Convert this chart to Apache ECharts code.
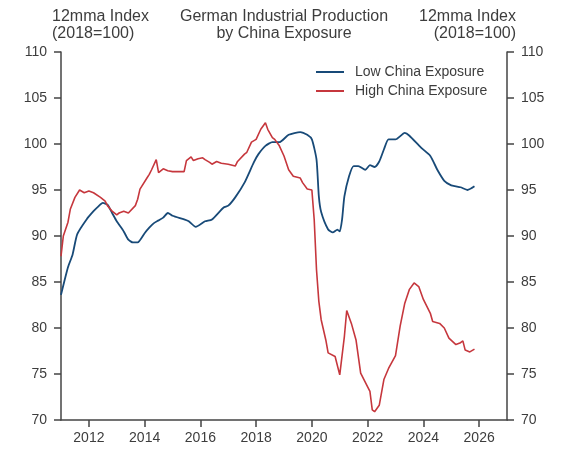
<!DOCTYPE html>
<html>
<head>
<meta charset="utf-8">
<script src="https://cdn.jsdelivr.net/npm/echarts@6/dist/echarts.min.js"></script>
<style>
  html, body { margin: 0; padding: 0; background: #fff; }
  #chart { width: 570px; height: 455px; }
</style>
</head>
<body>
<div id="chart"></div>
<script>
// Low China Exposure (12mma index, 2018=100)
const lowDates = ['2011-01','2011-04','2011-06','2011-08','2011-12','2012-03','2012-05','2012-07','2012-09','2012-11',
  '2013-01','2013-04','2013-06','2013-08','2013-10','2014-01','2014-03','2014-05','2014-07','2014-09','2014-11',
  '2015-01','2015-06','2015-08','2015-11','2016-03','2016-06','2016-11','2017-01','2017-04','2017-08','2017-12',
  '2018-02','2018-05','2018-08','2018-11','2019-03','2019-08','2019-11','2020-01','2020-03','2020-04','2020-05',
  '2020-08','2020-10','2020-12','2021-01','2021-02','2021-03','2021-05','2021-07','2021-09','2021-12','2022-02',
  '2022-04','2022-06','2022-08','2022-10','2023-01','2023-05','2023-07','2023-12','2024-04','2024-07','2024-10',
  '2025-01','2025-03','2025-05','2025-08','2025-11'];
const lowValues = [83.6, 86.6, 88.0, 90.2, 91.8, 92.7, 93.2, 93.6, 93.4, 92.5,
  91.6, 90.5, 89.6, 89.3, 89.3, 90.3, 90.9, 91.4, 91.7, 92.0, 92.5,
  92.2, 91.8, 91.6, 91.0, 91.6, 91.8, 93.1, 93.3, 94.2, 95.8, 98.0,
  98.9, 99.8, 100.2, 100.2, 101.0, 101.3, 101.0, 100.5, 98.3, 94.3, 92.6,
  90.7, 90.4, 90.7, 90.5, 91.8, 94.3, 96.5, 97.6, 97.6, 97.2, 97.7,
  97.5, 98.1, 99.4, 100.5, 100.5, 101.2, 100.9, 99.6, 98.7, 97.2, 96.0,
  95.5, 95.4, 95.3, 95.0, 95.4];

// High China Exposure (12mma index, 2018=100)
const highDates = ['2011-01','2011-02','2011-04','2011-05','2011-07','2011-09','2011-11','2012-01','2012-03','2012-06',
  '2012-08','2012-09','2012-11','2013-01','2013-02','2013-04','2013-06','2013-09','2013-10','2013-11','2014-02',
  '2014-03','2014-04','2014-06','2014-07','2014-09','2014-11','2015-01','2015-06','2015-07','2015-09','2015-10',
  '2015-12','2016-02','2016-03','2016-05','2016-06','2016-08','2016-10','2017-01','2017-04','2017-05','2017-08',
  '2017-09','2017-11','2018-01','2018-03','2018-05','2018-06','2018-08','2018-09','2018-11','2019-01','2019-03',
  '2019-05','2019-08','2019-09','2019-11','2020-01','2020-02','2020-03','2020-04','2020-05','2020-07','2020-08',
  '2020-11','2021-01','2021-03','2021-04','2021-06','2021-08','2021-10','2022-01','2022-02','2022-03','2022-04',
  '2022-06','2022-08','2022-10','2023-01','2023-03','2023-05','2023-07','2023-09','2023-11','2024-01','2024-04',
  '2024-05','2024-08','2024-10','2024-12','2025-03','2025-05','2025-06','2025-07','2025-09','2025-11'];
const highValues = [87.8, 90.0, 91.5, 92.9, 94.2, 95.0, 94.7, 94.9, 94.7, 94.2,
  93.8, 93.3, 92.7, 92.3, 92.5, 92.7, 92.5, 93.3, 94.0, 95.1, 96.3,
  96.7, 97.2, 98.3, 96.9, 97.3, 97.1, 97.0, 97.0, 98.2, 98.6, 98.2,
  98.4, 98.5, 98.3, 98.0, 97.8, 98.1, 97.9, 97.8, 97.6, 98.1, 98.9,
  99.1, 100.2, 100.5, 101.6, 102.3, 101.6, 100.7, 100.5, 99.8, 98.7, 97.2,
  96.5, 96.3, 95.8, 95.1, 95.0, 91.8, 86.3, 82.9, 80.9, 78.7, 77.3,
  76.9, 74.9, 79.1, 81.9, 80.5, 78.7, 75.1, 73.6, 73.1, 71.1, 70.9,
  71.6, 74.4, 75.6, 77.0, 80.2, 82.7, 84.2, 84.9, 84.5, 83.1, 81.6,
  80.7, 80.5, 80.0, 78.9, 78.2, 78.4, 78.6, 77.6, 77.4, 77.7];

const yearTicks = [2012, 2014, 2016, 2018, 2020, 2022, 2024, 2026];

const FONT = '"Liberation Sans", Arial, sans-serif';
const TEXT = '#3d3d3d';
const AXIS = '#444';
const BLUE = '#184a78';
const RED = '#c6373d';

// 'YYYY-MM' -> decimal year
const toYear = s => {
  const [y, m] = s.split('-').map(Number);
  return y + (m - 1) / 12;
};
const pairs = (dates, values) => dates.map((d, i) => [toYear(d), values[i]]);

const chart = echarts.init(document.getElementById('chart'));

const yAxisBase = {
  type: 'value',
  min: 70,
  max: 110,
  interval: 5,
  axisLine: { show: true, lineStyle: { color: AXIS, width: 1.5 } },
  axisTick: { show: true, length: 7, lineStyle: { color: AXIS, width: 1.5 } },
  axisLabel: { color: TEXT, fontSize: 14, fontFamily: FONT, margin: 14 },
  splitLine: { show: false }
};

chart.setOption({
  animation: false,
  backgroundColor: '#fff',
  grid: { left: 61, right: 63, top: 52, bottom: 35 },
  xAxis: {
    type: 'value',
    min: 2011,
    max: 2027,
    axisLine: { show: true, onZero: false, lineStyle: { color: AXIS, width: 1.5 } },
    axisTick: { show: true, length: 7, customValues: yearTicks, lineStyle: { color: AXIS, width: 1.5 } },
    axisLabel: {
      customValues: yearTicks,
      formatter: v => String(v),
      color: TEXT, fontSize: 14, fontFamily: FONT, margin: 11
    },
    splitLine: { show: false }
  },
  yAxis: [
    Object.assign({}, yAxisBase, { position: 'left' }),
    Object.assign({}, yAxisBase, { position: 'right' })
  ],
  legend: {
    orient: 'vertical',
    left: 311,
    top: 59,
    icon: 'rect',
    itemWidth: 28,
    itemHeight: 2,
    itemGap: 3,
    textStyle: { color: TEXT, fontSize: 14, lineHeight: 16, fontFamily: FONT, padding: [0, 0, 0, 6] },
    data: [
      { name: 'Low China Exposure', itemStyle: { color: BLUE } },
      { name: 'High China Exposure', itemStyle: { color: RED } }
    ]
  },
  graphic: [
    {
      type: 'text', x: 52, y: 8,
      style: { text: '12mma Index\n(2018=100)', fontSize: 16, lineHeight: 17, fontFamily: FONT, fill: TEXT, align: 'left', verticalAlign: 'top' }
    },
    {
      type: 'text', x: 284, y: 8,
      style: { text: 'German Industrial Production\nby China Exposure', fontSize: 16, lineHeight: 17, fontFamily: FONT, fill: TEXT, align: 'center', verticalAlign: 'top' }
    },
    {
      type: 'text', x: 516, y: 8,
      style: { text: '12mma Index\n(2018=100)', fontSize: 16, lineHeight: 17, fontFamily: FONT, fill: TEXT, align: 'right', verticalAlign: 'top' }
    }
  ],
  series: [
    {
      name: 'Low China Exposure',
      type: 'line',
      data: pairs(lowDates, lowValues),
      symbol: 'none',
      smooth: 0.2,
      lineStyle: { color: BLUE, width: 1.8 },
      itemStyle: { color: BLUE }
    },
    {
      name: 'High China Exposure',
      type: 'line',
      data: pairs(highDates, highValues),
      symbol: 'none',
      lineStyle: { color: RED, width: 1.6 },
      itemStyle: { color: RED }
    }
  ]
});
</script>
</body>
</html>
